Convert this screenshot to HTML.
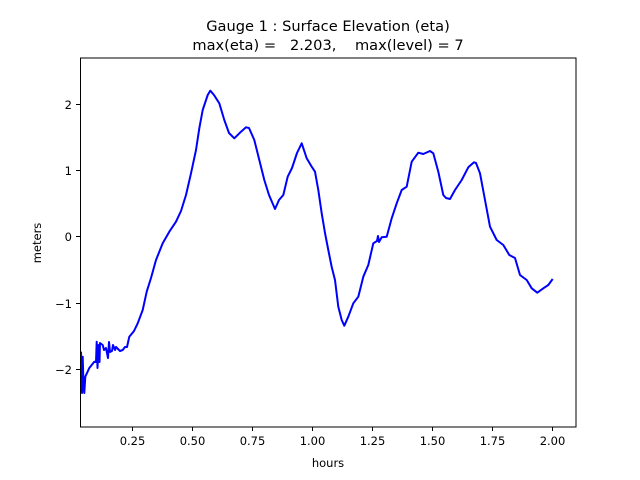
<!DOCTYPE html>
<html><head><meta charset="utf-8"><style>
body{margin:0;background:#fff;}
svg{display:block;font-family:"DejaVu Sans","Liberation Sans",sans-serif;}
</style></head><body>
<svg width="640" height="480" viewBox="0 0 640 480" xmlns="http://www.w3.org/2000/svg">
<rect width="640" height="480" fill="#fff"/>
<text x="328" y="31" font-size="14.6" text-anchor="middle" fill="#000">Gauge 1 : Surface Elevation (eta)</text>
<text x="328" y="50" font-size="14.6" text-anchor="middle" fill="#000" xml:space="preserve">max(eta) =   2.203,    max(level) = 7</text>
<polyline fill="none" stroke="#0000ff" stroke-width="2" stroke-linejoin="round" points="
81,351.7 81.5,372 82,393 82.7,356.7 83.5,385 84.3,393 85.3,376.7 89.3,368 94.3,361.7 96,362 96.7,341.7 97.5,368 98.5,345 99.5,362 100,343 102.7,345 104,350 106,348 108,358 109,342 110,352 112,351 113,345 115,350 116,347 120,351 122.7,350 125,347 127,347 129.3,336.7 134,331 137.7,323.3 142.7,310 146.7,291.7 151,278 156,260 162.7,243.3 169.3,231.7 176,221.7 181,211 186,195 191,173.3 196,150 199.3,128.3 202.7,110 207.7,95 210.3,90.7 214,95 219.3,103.3 224.3,120 229,133 234.3,138.3 241,131.7 246,127.3 249,128 254.3,140 259.3,160 264.3,180 269,195 275,209 279,200 283.3,195 287.7,176.7 292,168 297,153 301.7,143.3 306.7,158.3 311.7,166.7 315,171.7 318.3,190 321.7,213.3 325,233 328.3,250 331.7,267 335,280 338.3,306.7 341.7,320 344.3,325.7 348.3,316.7 353.3,303.3 358.3,296.7 363.3,276.7 368.3,265 373.3,243.3 377,241 378,236 379,242 381.7,237.3 386.7,236.7 391.7,218.3 396.7,203.3 401.7,190 406.7,186.7 411.7,161.7 418.3,152.7 423.3,154 430,151 433.3,153.3 438.3,171.7 443.3,195 446,198 450,199 455,190 461.7,180 468.3,167.3 474,162.3 476,163 480,173.3 485,200 490,226.7 496.7,240 503.3,245 509.3,255 515,258 520,275 526.7,280 531.7,288.3 537.3,292.7 543.3,288.3 548.3,285 552.7,279"/>
<rect x="80.5" y="58" width="495.5" height="369" fill="none" stroke="#000" stroke-width="1"/>
<g stroke="#000" stroke-width="1">
<line x1="132.5" y1="427" x2="132.5" y2="431"/>
<line x1="192.5" y1="427" x2="192.5" y2="431"/>
<line x1="252.5" y1="427" x2="252.5" y2="431"/>
<line x1="312.5" y1="427" x2="312.5" y2="431"/>
<line x1="372.5" y1="427" x2="372.5" y2="431"/>
<line x1="432.5" y1="427" x2="432.5" y2="431"/>
<line x1="492.5" y1="427" x2="492.5" y2="431"/>
<line x1="552.5" y1="427" x2="552.5" y2="431"/>
<line x1="76" y1="104.5" x2="80" y2="104.5"/>
<line x1="76" y1="170.5" x2="80" y2="170.5"/>
<line x1="76" y1="236.5" x2="80" y2="236.5"/>
<line x1="76" y1="303.5" x2="80" y2="303.5"/>
<line x1="76" y1="369.5" x2="80" y2="369.5"/>
</g>
<g font-size="11.5" fill="#000" text-anchor="middle">
<text x="132.5" y="445">0.25</text>
<text x="192.5" y="445">0.50</text>
<text x="252.5" y="445">0.75</text>
<text x="312.5" y="445">1.00</text>
<text x="372.5" y="445">1.25</text>
<text x="432.5" y="445">1.50</text>
<text x="492.5" y="445">1.75</text>
<text x="552.5" y="445">2.00</text>
<text x="328" y="467">hours</text>
</g>
<g font-size="11.5" fill="#000" text-anchor="end">
<text x="72" y="109">2</text>
<text x="72" y="175">1</text>
<text x="72" y="241">0</text>
<text x="72" y="308">−1</text>
<text x="72" y="374">−2</text>
</g>
<text transform="translate(41,243) rotate(-90)" font-size="11.5" text-anchor="middle" fill="#000">meters</text>
</svg>
</body></html>
